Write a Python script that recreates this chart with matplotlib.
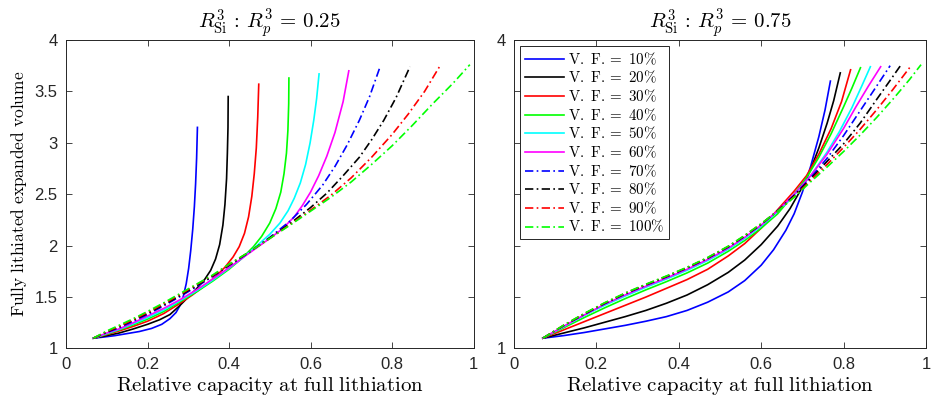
import matplotlib
matplotlib.use("Agg")
import matplotlib.pyplot as plt

plt.rcParams['mathtext.fontset'] = 'cm'
plt.rcParams['font.family'] = ['Liberation Sans Narrow', 'Liberation Sans', 'DejaVu Sans']

# ----------------- Data: R_Si^3 : R_p^3 = 0.25 -----------------
left_x = {
    10: [0.067, 0.09, 0.12, 0.15, 0.18, 0.21, 0.235, 0.255, 0.27, 0.28, 0.288, 0.295, 0.301,
         0.306, 0.311, 0.315, 0.318, 0.3205, 0.3225],
    20: [0.067, 0.10, 0.13, 0.165, 0.2, 0.23, 0.255, 0.28, 0.30, 0.32, 0.34, 0.355, 0.367,
         0.377, 0.385, 0.39, 0.394, 0.396, 0.3975, 0.398],
    30: [0.067, 0.10, 0.13, 0.165, 0.2, 0.24, 0.28, 0.31, 0.34, 0.37, 0.39, 0.41, 0.425,
         0.438, 0.448, 0.456, 0.462, 0.467, 0.4705, 0.473],
    40: [0.067, 0.10, 0.13, 0.165, 0.2, 0.24, 0.28, 0.32, 0.36, 0.40, 0.43, 0.46, 0.48,
         0.50, 0.515, 0.527, 0.535, 0.541, 0.5445, 0.5465, 0.547],
    50: [0.067, 0.10, 0.13, 0.165, 0.2, 0.24, 0.28, 0.32, 0.36, 0.40, 0.43, 0.46, 0.50,
         0.525, 0.545, 0.56, 0.575, 0.588, 0.599, 0.608, 0.615, 0.621],
    60: [0.067, 0.10, 0.13, 0.165, 0.2, 0.24, 0.28, 0.32, 0.36, 0.40, 0.44, 0.47, 0.50,
         0.53, 0.56, 0.58, 0.60, 0.62, 0.64, 0.66, 0.68, 0.694],
    70: [0.067, 0.10, 0.13, 0.165, 0.2, 0.24, 0.28, 0.32, 0.36, 0.40, 0.45, 0.50, 0.55,
         0.59, 0.63, 0.66, 0.69, 0.72, 0.745, 0.769],
    80: [0.067, 0.10, 0.13, 0.165, 0.2, 0.24, 0.28, 0.32, 0.36, 0.40, 0.45, 0.50, 0.55,
         0.60, 0.64, 0.68, 0.72, 0.75, 0.78, 0.81, 0.844],
    90: [0.067, 0.10, 0.13, 0.165, 0.2, 0.24, 0.28, 0.32, 0.36, 0.40, 0.45, 0.50, 0.55,
         0.60, 0.65, 0.70, 0.75, 0.80, 0.84, 0.88, 0.918],
    100: [0.067, 0.10, 0.13, 0.165, 0.2, 0.24, 0.28, 0.32, 0.36, 0.40, 0.45, 0.50, 0.55,
          0.60, 0.65, 0.70, 0.75, 0.80, 0.85, 0.90, 0.95, 0.991],
}
left_y = {
    10: [1.10, 1.11, 1.125, 1.145, 1.165, 1.195, 1.235, 1.29, 1.35, 1.42, 1.51, 1.63, 1.78,
         1.95, 2.16, 2.38, 2.60, 2.85, 3.15],
    20: [1.10, 1.125, 1.15, 1.19, 1.235, 1.28, 1.33, 1.42, 1.50, 1.58, 1.67, 1.76, 1.87,
         2.01, 2.20, 2.40, 2.65, 2.90, 3.15, 3.45],
    30: [1.10, 1.135, 1.17, 1.215, 1.265, 1.34, 1.44, 1.52, 1.61, 1.71, 1.79, 1.89, 1.99,
         2.12, 2.28, 2.48, 2.70, 2.95, 3.25, 3.57],
    40: [1.10, 1.14, 1.18, 1.23, 1.285, 1.36, 1.455, 1.55, 1.655, 1.77, 1.87, 1.99, 2.09,
         2.22, 2.36, 2.52, 2.70, 2.90, 3.12, 3.38, 3.63],
    50: [1.10, 1.145, 1.185, 1.24, 1.30, 1.375, 1.465, 1.56, 1.665, 1.78, 1.87, 1.97, 2.11,
         2.22, 2.34, 2.46, 2.61, 2.79, 3.00, 3.22, 3.43, 3.67],
    60: [1.10, 1.15, 1.19, 1.25, 1.315, 1.39, 1.475, 1.57, 1.675, 1.785, 1.90, 1.985, 2.07,
         2.16, 2.28, 2.39, 2.52, 2.68, 2.87, 3.10, 3.40, 3.70],
    70: [1.10, 1.155, 1.20, 1.265, 1.33, 1.415, 1.505, 1.60, 1.70, 1.805, 1.935, 2.08, 2.24,
         2.40, 2.59, 2.77, 2.98, 3.22, 3.45, 3.72],
    80: [1.10, 1.16, 1.21, 1.275, 1.34, 1.425, 1.515, 1.61, 1.705, 1.81, 1.94, 2.075, 2.215,
         2.37, 2.51, 2.68, 2.86, 3.03, 3.22, 3.44, 3.74],
    90: [1.10, 1.165, 1.215, 1.28, 1.35, 1.435, 1.525, 1.62, 1.71, 1.815, 1.94, 2.07, 2.205,
         2.345, 2.49, 2.66, 2.86, 3.08, 3.28, 3.50, 3.75],
    100: [1.10, 1.17, 1.225, 1.29, 1.36, 1.445, 1.535, 1.625, 1.715, 1.82, 1.94, 2.07, 2.20,
          2.335, 2.47, 2.62, 2.79, 2.97, 3.17, 3.38, 3.58, 3.76],
}

# ----------------- Data: R_Si^3 : R_p^3 = 0.75 -----------------
right_x = {
    10: [0.07, 0.12, 0.17, 0.22, 0.27, 0.32, 0.37, 0.42, 0.47, 0.52, 0.56, 0.60, 0.63, 0.66,
         0.68, 0.70, 0.72, 0.74, 0.755, 0.768],
    20: [0.07, 0.12, 0.17, 0.22, 0.27, 0.32, 0.37, 0.42, 0.47, 0.52, 0.56, 0.60, 0.64, 0.67,
         0.70, 0.72, 0.74, 0.76, 0.776, 0.792],
    30: [0.07, 0.12, 0.17, 0.22, 0.27, 0.32, 0.37, 0.42, 0.47, 0.52, 0.56, 0.60, 0.64, 0.68,
         0.71, 0.74, 0.77, 0.795, 0.817],
    40: [0.07, 0.12, 0.17, 0.22, 0.27, 0.32, 0.37, 0.42, 0.47, 0.52, 0.56, 0.60, 0.64, 0.68,
         0.71, 0.74, 0.77, 0.80, 0.82, 0.841],
    50: [0.07, 0.12, 0.17, 0.22, 0.27, 0.32, 0.37, 0.42, 0.47, 0.52, 0.56, 0.60, 0.64, 0.68,
         0.72, 0.76, 0.79, 0.82, 0.845, 0.865],
    60: [0.07, 0.12, 0.17, 0.22, 0.27, 0.32, 0.37, 0.42, 0.47, 0.52, 0.56, 0.60, 0.64, 0.68,
         0.72, 0.76, 0.80, 0.83, 0.86, 0.89],
    70: [0.07, 0.12, 0.17, 0.22, 0.27, 0.32, 0.37, 0.42, 0.47, 0.52, 0.56, 0.60, 0.64, 0.68,
         0.72, 0.76, 0.80, 0.84, 0.88, 0.913],
    80: [0.07, 0.12, 0.17, 0.22, 0.27, 0.32, 0.37, 0.42, 0.47, 0.52, 0.56, 0.60, 0.64, 0.68,
         0.72, 0.76, 0.80, 0.84, 0.88, 0.91, 0.938],
    90: [0.07, 0.12, 0.17, 0.22, 0.27, 0.32, 0.37, 0.42, 0.47, 0.52, 0.56, 0.60, 0.64, 0.68,
         0.72, 0.76, 0.80, 0.84, 0.88, 0.92, 0.964],
    100: [0.07, 0.12, 0.17, 0.22, 0.27, 0.32, 0.37, 0.42, 0.47, 0.52, 0.56, 0.60, 0.64, 0.68,
          0.72, 0.76, 0.80, 0.84, 0.88, 0.92, 0.96, 0.988],
}
right_y = {
    10: [1.10, 1.125, 1.155, 1.19, 1.225, 1.265, 1.31, 1.37, 1.45, 1.55, 1.66, 1.81, 1.96, 2.15,
         2.31, 2.52, 2.77, 3.06, 3.32, 3.60],
    20: [1.10, 1.15, 1.20, 1.255, 1.31, 1.37, 1.44, 1.52, 1.62, 1.74, 1.86, 2.01, 2.19, 2.36,
         2.57, 2.74, 2.95, 3.19, 3.41, 3.68],
    30: [1.10, 1.18, 1.26, 1.34, 1.42, 1.50, 1.585, 1.67, 1.77, 1.90, 2.02, 2.17, 2.35, 2.53,
         2.68, 2.89, 3.14, 3.40, 3.71],
    40: [1.10, 1.20, 1.30, 1.395, 1.485, 1.57, 1.65, 1.735, 1.83, 1.945, 2.05, 2.17, 2.31, 2.50,
         2.66, 2.86, 3.09, 3.35, 3.53, 3.73],
    50: [1.10, 1.21, 1.32, 1.42, 1.51, 1.595, 1.675, 1.76, 1.855, 1.965, 2.07, 2.19, 2.33, 2.49,
         2.68, 2.91, 3.11, 3.34, 3.56, 3.74],
    60: [1.10, 1.215, 1.325, 1.43, 1.52, 1.605, 1.685, 1.77, 1.865, 1.975, 2.08, 2.20, 2.34, 2.50,
         2.68, 2.89, 3.14, 3.35, 3.55, 3.74],
    70: [1.10, 1.22, 1.33, 1.435, 1.53, 1.615, 1.695, 1.78, 1.875, 1.985, 2.09, 2.205, 2.34, 2.49,
         2.66, 2.85, 3.07, 3.31, 3.55, 3.75],
    80: [1.10, 1.223, 1.335, 1.44, 1.535, 1.62, 1.70, 1.785, 1.88, 1.99, 2.095, 2.21, 2.34, 2.485,
         2.65, 2.82, 2.99, 3.19, 3.42, 3.59, 3.75],
    90: [1.10, 1.224, 1.337, 1.442, 1.537, 1.622, 1.702, 1.787, 1.882, 1.992, 2.097, 2.212, 2.335,
         2.475, 2.635, 2.79, 2.955, 3.13, 3.32, 3.52, 3.75],
    100: [1.10, 1.225, 1.34, 1.445, 1.54, 1.625, 1.705, 1.79, 1.885, 1.995, 2.10, 2.215, 2.335,
          2.47, 2.62, 2.765, 2.915, 3.075, 3.245, 3.425, 3.615, 3.76],
}

volume_fractions = [10, 20, 30, 40, 50, 60, 70, 80, 90, 100]
colors = ['#0000ff', '#000000', '#ff0000', '#00ff00', '#00ffff', '#ff00ff',
          '#0000ff', '#000000', '#ff0000', '#00ff00']
dashdot = (0, (5, 2, 1, 2))
styles = ['-'] * 6 + [dashdot] * 4

titles = [r'$R^3_{\mathrm{Si}}\,:\,R^3_p\,=\,0.25$', r'$R^3_{\mathrm{Si}}\,:\,R^3_p\,=\,0.75$']
xlabel = r'$\mathrm{Relative\ capacity\ at\ full\ lithiation}$'
ylabel = r'$\mathrm{Fully\ lithiated\ expanded\ volume}$'

fig = plt.figure(figsize=(9.31, 3.99), dpi=100)
ax_left = fig.add_axes([0.0709, 0.1266, 0.4377, 0.7732])
ax_right = fig.add_axes([0.5521, 0.1266, 0.4425, 0.7732])

for ax, xs, ys, title in [(ax_left, left_x, left_y, titles[0]),
                          (ax_right, right_x, right_y, titles[1])]:
    for vf, c, ls in zip(volume_fractions, colors, styles):
        ax.plot(xs[vf], ys[vf], color=c, linestyle=ls, linewidth=1.2,
                label=r'$\mathrm{V.\ F.} =\ %d\%%$' % vf)
    ax.set_xlim(0, 1)
    ax.set_ylim(1, 4)
    ax.set_xticks([0, 0.2, 0.4, 0.6, 0.8, 1])
    ax.set_xticklabels(['0', '0.2', '0.4', '0.6', '0.8', '1'])
    ax.set_yticks([1, 1.5, 2, 2.5, 3, 3.5, 4])
    ax.tick_params(direction='in', top=True, right=True, length=4, width=0.6,
                   labelsize=12, colors='#262626', pad=6)
    for s in ax.spines.values():
        s.set_linewidth(0.7)
        s.set_color('#262626')
    ax.set_title(title, fontsize=15, pad=8)
    ax.set_xlabel(xlabel, fontsize=15, labelpad=2)

ax_left.set_yticklabels(['1', '1.5', '2', '2.5', '3', '3.5', '4'])
ax_right.set_yticklabels(['1', '', '', '', '', '', '4'])
ax_left.set_ylabel(ylabel, fontsize=12.5, labelpad=4)

leg = ax_right.legend(loc='upper left', fontsize=10.8, frameon=True, fancybox=False,
                      edgecolor='#262626', framealpha=1, labelspacing=0.15,
                      handlelength=2.6, handletextpad=0.3, borderpad=0.3,
                      borderaxespad=0.4)
leg.get_frame().set_linewidth(0.7)

fig.savefig('out.png', dpi=100)
